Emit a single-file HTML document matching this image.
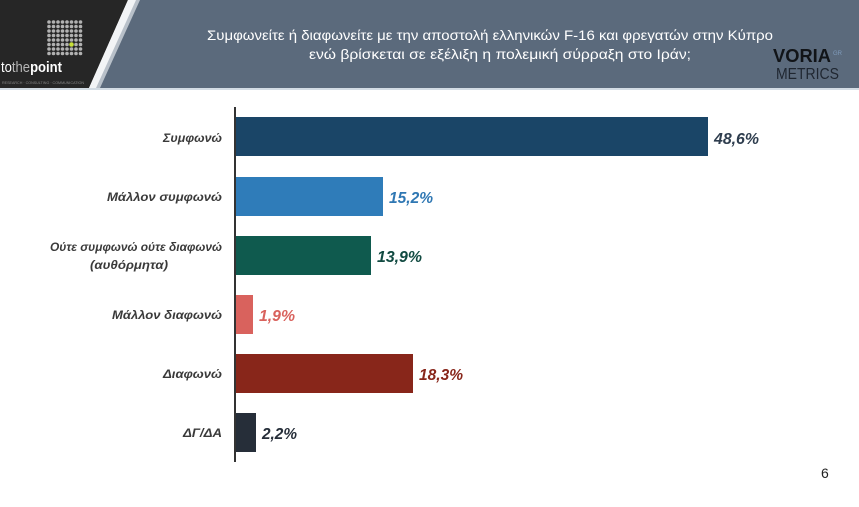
<!DOCTYPE html>
<html><head><meta charset="utf-8">
<style>
html,body{margin:0;padding:0;background:#fff;}
svg{display:block;}
text{font-family:"Liberation Sans","DejaVu Sans",sans-serif;}
</style></head>
<body>
<svg width="859" height="507" viewBox="0 0 859 507" xmlns="http://www.w3.org/2000/svg">
<rect x="0" y="0" width="859" height="507" fill="#ffffff"/>
<!-- header -->
<polygon points="137,0 859,0 859,88 97,88" fill="#5b6a7c"/>
<polygon points="0,0 128,0 89,88 0,88" fill="#262626"/>
<polygon points="128,0 136,0 96,88 89,88" fill="#f2f4f6"/>
<polygon points="136,0 140,0 100,88 96,88" fill="#b8c0c9"/>
<rect x="0" y="88" width="859" height="2" fill="#d3dce4"/>
<!-- dot grid -->
<g fill="#b2b2b2">
<g id="r"><circle cx="49" cy="22" r="1.8"/><circle cx="53.5" cy="22" r="1.8"/><circle cx="58" cy="22" r="1.8"/><circle cx="62.5" cy="22" r="1.8"/><circle cx="67" cy="22" r="1.8"/><circle cx="71.5" cy="22" r="1.8"/><circle cx="76" cy="22" r="1.8"/><circle cx="80.5" cy="22" r="1.8"/></g>
<use href="#r" y="4.5"/><use href="#r" y="9"/><use href="#r" y="13.5"/><use href="#r" y="18"/><use href="#r" y="22.5"/><use href="#r" y="27"/><use href="#r" y="31.5"/>
</g>
<circle cx="71.5" cy="44.5" r="2.3" fill="#c8e03a"/>
<text x="1" y="72" font-size="15" fill="#ffffff" textLength="61" lengthAdjust="spacingAndGlyphs"><tspan>to</tspan><tspan fill="#b5b5b5">the</tspan><tspan font-weight="bold">point</tspan></text>
<text x="2" y="84" font-size="3.5" fill="#888" textLength="82" lengthAdjust="spacingAndGlyphs">RESEARCH · CONSULTING · COMMUNICATION</text>
<!-- title -->
<text x="207" y="40" font-size="14" fill="#ffffff" textLength="566" lengthAdjust="spacingAndGlyphs">Συμφωνείτε ή διαφωνείτε με την αποστολή ελληνικών F-16 και φρεγατών στην Κύπρο</text>
<text x="309" y="59" font-size="14" fill="#ffffff" textLength="382" lengthAdjust="spacingAndGlyphs">ενώ βρίσκεται σε εξέλιξη η πολεμική σύρραξη στο Ιράν;</text>
<!-- voria logo -->
<text x="773" y="62" font-size="18" font-weight="bold" fill="#111418" textLength="58" lengthAdjust="spacingAndGlyphs">VORIA</text>
<text x="833" y="55" font-size="6" fill="#7f9bbb">GR</text>
<text x="776" y="79" font-size="16" fill="#1f2630" textLength="63" lengthAdjust="spacingAndGlyphs">METRICS</text>
<!-- bars -->
<rect x="235" y="117" width="473" height="39" fill="#1a4567"/>
<rect x="235" y="177" width="148" height="39" fill="#2f7cb9"/>
<rect x="235" y="236" width="136" height="39" fill="#0f5a4e"/>
<rect x="235" y="295" width="18" height="39" fill="#d9625d"/>
<rect x="235" y="354" width="178" height="39" fill="#88261a"/>
<rect x="235" y="413" width="21" height="39" fill="#262e39"/>
<rect x="234" y="107" width="2" height="355" fill="#333"/>
<!-- category labels -->
<g font-size="12" font-weight="bold" font-style="italic" fill="#3a3a3a" text-anchor="end">
<text x="222" y="142" textLength="59" lengthAdjust="spacingAndGlyphs">Συμφωνώ</text>
<text x="222" y="201" textLength="115" lengthAdjust="spacingAndGlyphs">Μάλλον συμφωνώ</text>
<text x="222" y="251" textLength="172" lengthAdjust="spacingAndGlyphs">Ούτε συμφωνώ ούτε διαφωνώ</text>
<text x="168" y="269" textLength="78" lengthAdjust="spacingAndGlyphs">(αυθόρμητα)</text>
<text x="222" y="319" textLength="110" lengthAdjust="spacingAndGlyphs">Μάλλον διαφωνώ</text>
<text x="222" y="378" textLength="59" lengthAdjust="spacingAndGlyphs">Διαφωνώ</text>
<text x="222" y="437" textLength="39" lengthAdjust="spacingAndGlyphs">ΔΓ/ΔΑ</text>
</g>
<!-- value labels -->
<g font-size="15.5" font-weight="bold" font-style="italic">
<text x="714" y="144" fill="#2e3d4e" textLength="45" lengthAdjust="spacingAndGlyphs">48,6%</text>
<text x="389" y="203" fill="#2f77b3" textLength="44" lengthAdjust="spacingAndGlyphs">15,2%</text>
<text x="377" y="262" fill="#114a41" textLength="45" lengthAdjust="spacingAndGlyphs">13,9%</text>
<text x="259" y="321" fill="#d9625d" textLength="36" lengthAdjust="spacingAndGlyphs">1,9%</text>
<text x="419" y="380" fill="#88261a" textLength="44" lengthAdjust="spacingAndGlyphs">18,3%</text>
<text x="262" y="439" fill="#262e39" textLength="35" lengthAdjust="spacingAndGlyphs">2,2%</text>
</g>
<text x="821" y="478" font-size="14" fill="#222">6</text>
</svg>
</body></html>
